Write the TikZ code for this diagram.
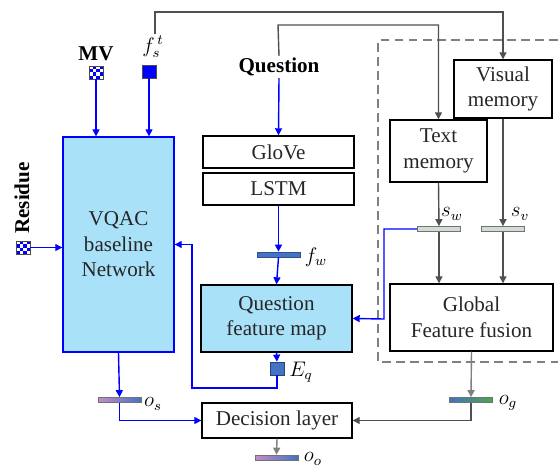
\documentclass[tikz,border=0pt]{standalone}
\usepackage{fontspec}
\setmainfont{Liberation Serif}
\usetikzlibrary{arrows.meta, positioning, calc}
\definecolor{boxblue}{HTML}{A9E1F9}
\definecolor{wireblue}{HTML}{0000FF}
\definecolor{steel}{HTML}{4472C4}
\definecolor{memgray}{HTML}{505050}
\definecolor{bargray}{HTML}{D3DCD3}

\begin{document}
\begin{tikzpicture}[
  x=0.02cm, y=-0.02cm,
  font=\fontsize{12}{14.5}\selectfont,
  block/.style={draw, line width=0.8pt, align=center, inner sep=1pt,
                text=black!85},
  netbox/.style={block, fill=boxblue, draw=wireblue},
  featbox/.style={block, fill=boxblue},
  vecbar/.style={draw=black!55, line width=0.4pt, inner sep=0pt,
                 minimum width=0.86cm, minimum height=0.1cm},
  membar/.style={vecbar, fill=bargray},
  outbar/.style={vecbar, left color=violet!45, right color=steel},
  tile/.style={draw=black!70, line width=0.4pt, inner sep=0pt,
               minimum width=0.28cm, minimum height=0.26cm},
  checker/.style={tile, fill=white, path picture={
      \foreach \i/\j in {0/0,0/2,1/1,1/3,2/0,2/2,3/1,3/3}
        \fill[wireblue] ([shift={(\i*0.07cm,\j*0.065cm)}]
          path picture bounding box.south west) rectangle ++(0.07cm,0.065cm);}},
  lab/.style={inner sep=1pt},
  wire/.style={-{Triangle[length=4pt, width=4pt]}, line width=0.8pt, wireblue},
  memwire/.style={-{Triangle[length=4pt, width=4pt]}, line width=0.8pt, memgray},
  outwire/.style={-{Triangle[length=4pt, width=4pt]}, line width=0.8pt, gray}
]
\useasboundingbox (0,0) rectangle (558,466);

%% Left branch: VQAC baseline
\node[netbox, minimum width=2.22cm, minimum height=4.3cm] (vqac) at (118.5,244.5)
  {VQAC\\baseline\\Network};
\node[checker] (mv) at (96,72.5) {};
\node[lab, font=\fontsize{12}{14}\selectfont\bfseries] (mvlab) at (96,54) {MV};
\node[tile, fill=wireblue] (fst) at (149,71.5) {};
\node[lab] (fstlab) at (153,47) {$f_s^{\,t}$};
\node[checker] (res) at (23,247.5) {};
\node[lab, rotate=90, font=\fontsize{12}{14}\selectfont\bfseries] (reslab) at (22,198) {Residue};

%% Middle branch: question encoding
\node[lab, font=\fontsize{12}{14}\selectfont\bfseries] (qlab) at (279,67) {Question};
\node[block, minimum width=3.02cm, minimum height=0.64cm] (glove) at (278.5,152) {GloVe};
\node[block, minimum width=3.02cm, minimum height=0.64cm] (lstm) at (278.5,189) {LSTM};
\node[vecbar, fill=steel, draw=steel!70!black] (fw) at (278.5,254.5) {};
\node[lab] (fwlab) at (316,257) {$f_w$};
\node[featbox, minimum width=3.02cm, minimum height=1.34cm] (qfm) at (276.5,318.5)
  {Question\\feature map};
\node[tile, fill=steel, draw=steel!60!black] (eq) at (277,368.5) {};
\node[lab] (eqlab) at (301,372) {$E_q$};

%% Right branch: memories
\draw[dashed, line width=0.8pt, gray, dash pattern=on 5pt off 3pt]
  (558,40) -- (378,40) -- (378,362) -- (558,362);
\node[block, minimum width=1.96cm, minimum height=1.16cm] (vismem) at (503,89)
  {Visual\\memory};
\node[block, minimum width=1.94cm, minimum height=1.24cm] (textmem) at (438.5,151)
  {Text\\memory};
\node[membar] (sw) at (439,229) {};
\node[membar] (sv) at (503,229) {};
\node[lab] (swlab) at (452,214) {$s_w$};
\node[lab] (svlab) at (520,214) {$s_v$};
\node[block, minimum width=3.26cm, minimum height=1.34cm] (gff) at (471.5,317.5)
  {Global\\Feature fusion};

%% Decision
\node[block, minimum width=3.0cm, minimum height=0.7cm] (dec) at (277,420.5)
  {Decision layer};
\node[outbar] (os) at (119.5,400) {};
\node[lab] (oslab) at (153,404) {$o_s$};
\node[vecbar, left color=steel, middle color=black!75!steel, right color=green!50!black!70]
  (og) at (471,400) {};
\node[lab] (oglab) at (508,403) {$o_g$};
\node[outbar] (oo) at (276.5,457.5) {};
\node[lab] (oolab) at (313,459) {$o_o$};

%% Routing points
\coordinate (topA) at (155,12);
\coordinate (topB) at (278,25);
\coordinate (loopB) at (192,388);
\coordinate (loopC) at (384,319);

%% Connectors
\draw[wire] (mv.south) -- (mv.south |- vqac.north);
\draw[wire] (fst.south) -- (fst.south |- vqac.north);
\draw[wire] (res.east) -- (res.east -| vqac.west);
\draw[memwire] (topA |- fstlab.north) -- (topA) -| (vismem.north);
\draw[memwire] (qlab.north) -- (topB) -| (textmem.north);
\draw[wire] (qlab.south) -- (glove.north);
\draw[wire] (lstm.south) -- (fw.north);
\draw[wire] (fw.south) -- (qfm.north);
\draw[wire] (qfm.south) -- (eq.north);
\draw[wire] (eq.south) |- (loopB) |- (vqac.east);
\draw[memwire] (textmem.south) -- (sw.north);
\draw[memwire] (vismem.south) -- (sv.north);
\draw[memwire] (sw.south) -- (sw.south |- gff.north);
\draw[memwire] (sv.south) -- (sv.south |- gff.north);
\draw[wire] (sw.west) -| (loopC) -- (qfm.east);
\draw[wire] (vqac.south) -- (os.north);
\draw[wire] (os.south) |- (dec.west);
\draw[outwire] (gff.south) -- (og.north);
\draw[memwire] (og.south) |- (dec.east);
\draw[outwire] (dec.south) -- (oo.north);

\end{tikzpicture}
\end{document}
